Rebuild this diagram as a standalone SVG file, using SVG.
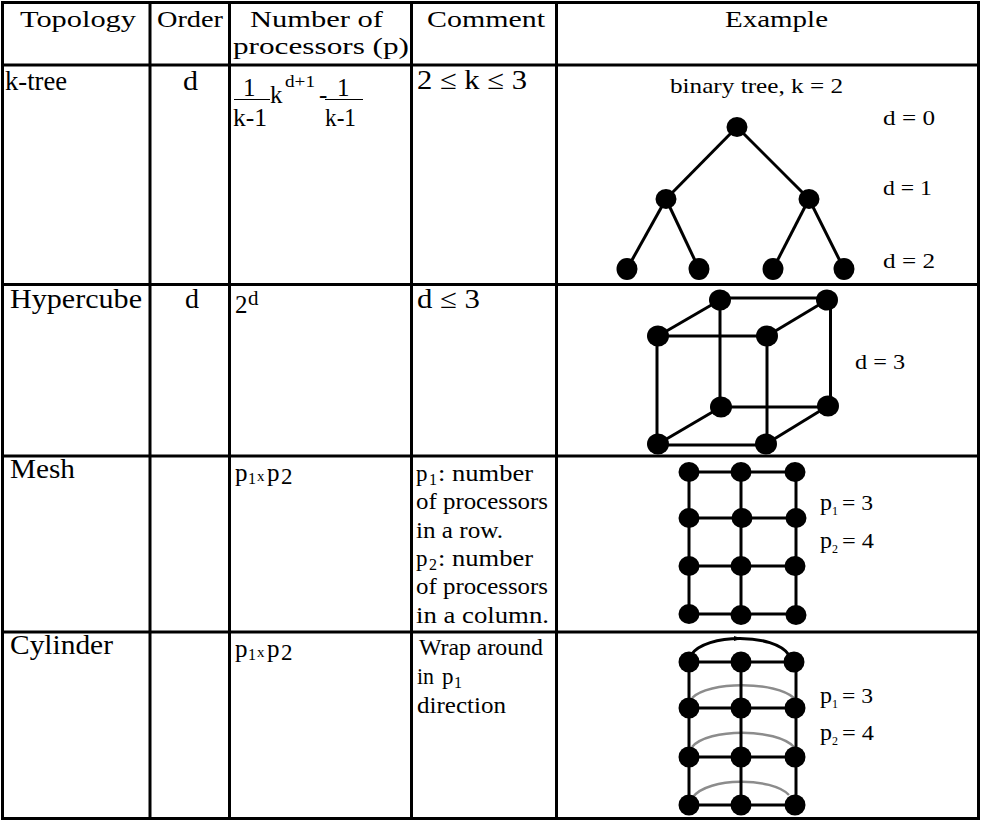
<svg xmlns="http://www.w3.org/2000/svg" width="981" height="821" viewBox="0 0 981 821">
<style>
  text { font-family: "Liberation Serif", "Times New Roman", serif; fill: #000; }
  .hd { font-size: 24px; }
  .h { font-size: 27px; }
  .c { font-size: 23px; }
  .l { font-size: 22px; }
  .f { font-size: 25px; }
  .grid line { stroke: #000; stroke-width: 3; }
  .e { stroke: #000; stroke-width: 3; fill: none; }
  .g { stroke: #8c8c8c; stroke-width: 2.5; fill: none; }
  .bar { stroke: #000; stroke-width: 1.2; }
  .n { fill: #000; }
</style>
<rect x="0" y="0" width="981" height="821" fill="#fff"/>

<!-- table grid -->
<g id="grid" class="grid">
  <line x1="1" y1="2.5" x2="980" y2="2.5"/>
  <line x1="1" y1="65" x2="980" y2="65"/>
  <line x1="1" y1="284.5" x2="980" y2="284.5"/>
  <line x1="1" y1="456" x2="980" y2="456"/>
  <line x1="1" y1="632" x2="980" y2="632"/>
  <line x1="1" y1="818.5" x2="980" y2="818.5"/>
  <line x1="2.5" y1="1" x2="2.5" y2="820"/>
  <line x1="150" y1="1" x2="150" y2="820"/>
  <line x1="229.5" y1="1" x2="229.5" y2="820"/>
  <line x1="411.5" y1="1" x2="411.5" y2="820"/>
  <line x1="556.5" y1="1" x2="556.5" y2="820"/>
  <line x1="978.5" y1="1" x2="978.5" y2="820"/>
</g>

<!-- header -->
<g id="header" class="hd">
  <text x="20" y="27" textLength="116" lengthAdjust="spacingAndGlyphs">Topology</text>
  <text x="157" y="27" textLength="66" lengthAdjust="spacingAndGlyphs">Order</text>
  <text x="250" y="27" textLength="133" lengthAdjust="spacingAndGlyphs">Number of</text>
  <text x="233" y="54" textLength="176" lengthAdjust="spacingAndGlyphs">processors (p)</text>
  <text x="427" y="27" textLength="118" lengthAdjust="spacingAndGlyphs">Comment</text>
  <text x="725" y="27" textLength="103" lengthAdjust="spacingAndGlyphs">Example</text>
</g>

<!-- row: k-tree -->
<g id="row-ktree">
  <text class="h" x="5" y="90" textLength="62" lengthAdjust="spacingAndGlyphs">k-tree</text>
  <text class="h" x="183" y="90" textLength="15" lengthAdjust="spacingAndGlyphs">d</text>
  <g id="formula" class="f">
    <text x="243" y="96">1</text>
    <line class="bar" x1="234" y1="99.5" x2="270" y2="99.5"/>
    <text x="233" y="126" textLength="34" lengthAdjust="spacingAndGlyphs">k-1</text>
    <text x="270" y="103">k</text>
    <text x="285" y="87" style="font-size:17px" textLength="30" lengthAdjust="spacingAndGlyphs">d+1</text>
    <text x="319" y="103">-</text>
    <text x="337" y="96">1</text>
    <line class="bar" x1="325" y1="99.5" x2="363" y2="99.5"/>
    <text x="325" y="126" textLength="31" lengthAdjust="spacingAndGlyphs">k-1</text>
  </g>
  <text class="h" x="417" y="89" textLength="110" lengthAdjust="spacingAndGlyphs">2 ≤ k ≤ 3</text>
</g>

<!-- row: hypercube -->
<g id="row-hypercube">
  <text class="h" x="10" y="308" textLength="132" lengthAdjust="spacingAndGlyphs">Hypercube</text>
  <text class="h" x="185" y="308" textLength="14" lengthAdjust="spacingAndGlyphs">d</text>
  <text x="235" y="313" style="font-size:25px">2</text>
  <text x="248" y="305" style="font-size:21px">d</text>
  <text class="h" x="417" y="308" textLength="63" lengthAdjust="spacingAndGlyphs">d ≤ 3</text>
</g>

<!-- row: mesh -->
<g id="row-mesh">
  <text class="h" x="10" y="478" textLength="65" lengthAdjust="spacingAndGlyphs">Mesh</text>
  <text x="235" y="481" style="font-size:25px">p</text>
  <text x="248" y="484" style="font-size:16px">1</text>
  <text x="257" y="481" style="font-size:15px">x</text>
  <text x="267" y="481" style="font-size:25px">p</text>
  <text x="281" y="484" style="font-size:23px">2</text>
  <g class="c">
    <text x="416" y="481">p</text>
    <text x="429" y="485" style="font-size:16px">1</text>
    <text x="438" y="481" textLength="95" lengthAdjust="spacingAndGlyphs">: number</text>
    <text x="416" y="509" textLength="132" lengthAdjust="spacingAndGlyphs">of processors</text>
    <text x="416" y="538" textLength="87" lengthAdjust="spacingAndGlyphs">in a row.</text>
    <text x="416" y="566">p</text>
    <text x="429" y="570" style="font-size:16px">2</text>
    <text x="438" y="566" textLength="95" lengthAdjust="spacingAndGlyphs">: number</text>
    <text x="416" y="594" textLength="132" lengthAdjust="spacingAndGlyphs">of processors</text>
    <text x="416" y="623" textLength="133" lengthAdjust="spacingAndGlyphs">in a column.</text>
  </g>
</g>

<!-- row: cylinder -->
<g id="row-cylinder">
  <text class="h" x="10" y="654" textLength="103" lengthAdjust="spacingAndGlyphs">Cylinder</text>
  <text x="235" y="657" style="font-size:25px">p</text>
  <text x="248" y="660" style="font-size:16px">1</text>
  <text x="257" y="657" style="font-size:15px">x</text>
  <text x="267" y="657" style="font-size:25px">p</text>
  <text x="281" y="660" style="font-size:23px">2</text>
  <g class="c">
    <text x="419" y="655" textLength="124" lengthAdjust="spacingAndGlyphs">Wrap around</text>
    <text x="417" y="684" textLength="17" lengthAdjust="spacingAndGlyphs">in</text>
    <text x="442" y="684">p</text>
    <text x="454" y="688" style="font-size:16px">1</text>
    <text x="417" y="713" textLength="89" lengthAdjust="spacingAndGlyphs">direction</text>
  </g>
</g>

<!-- example: binary tree -->
<g id="tree">
  <g class="l">
    <text x="670" y="93" textLength="173" lengthAdjust="spacingAndGlyphs">binary tree, k = 2</text>
    <text x="883" y="125" textLength="52" lengthAdjust="spacingAndGlyphs">d = 0</text>
    <text x="883" y="195" textLength="49" lengthAdjust="spacingAndGlyphs">d = 1</text>
    <text x="883" y="268" textLength="52" lengthAdjust="spacingAndGlyphs">d = 2</text>
  </g>
  <g id="tree-connectors" class="e">
    <line x1="737" y1="127" x2="666" y2="199"/>
    <line x1="737" y1="127" x2="809" y2="199"/>
    <line x1="666" y1="199" x2="627" y2="269"/>
    <line x1="666" y1="199" x2="699" y2="269"/>
    <line x1="809" y1="199" x2="773" y2="269"/>
    <line x1="809" y1="199" x2="844" y2="269"/>
  </g>
  <g id="tree-nodes" class="n">
    <ellipse id="t-root" cx="737" cy="127" rx="10.5" ry="10"/>
    <ellipse id="t-l" cx="666" cy="199" rx="10.5" ry="10"/>
    <ellipse id="t-r" cx="809" cy="199" rx="10.5" ry="10"/>
    <ellipse id="t-ll" cx="627" cy="269" rx="10.5" ry="11"/>
    <ellipse id="t-lr" cx="699" cy="269" rx="10.5" ry="11"/>
    <ellipse id="t-rl" cx="773" cy="269" rx="10.5" ry="11"/>
    <ellipse id="t-rr" cx="844" cy="269" rx="10.5" ry="11"/>
  </g>
</g>

<!-- example: hypercube -->
<g id="cube">
  <text class="l" x="855" y="369" textLength="50" lengthAdjust="spacingAndGlyphs">d = 3</text>
  <g id="cube-connectors" class="e">
    <line x1="720" y1="298" x2="827" y2="298"/>
    <line x1="658" y1="336" x2="767" y2="336"/>
    <line x1="721" y1="407" x2="828" y2="407"/>
    <line x1="658" y1="445" x2="766" y2="445"/>
    <line x1="657" y1="336" x2="657" y2="444"/>
    <line x1="720" y1="300" x2="720" y2="407"/>
    <line x1="767" y1="336" x2="767" y2="444"/>
    <line x1="830.5" y1="300" x2="830.5" y2="406"/>
    <line x1="658" y1="336" x2="720" y2="300"/>
    <line x1="767" y1="336" x2="827" y2="300"/>
    <line x1="658" y1="444" x2="721" y2="407"/>
    <line x1="766" y1="444" x2="828" y2="406"/>
  </g>
  <g id="cube-nodes" class="n">
    <ellipse id="c-btl" cx="720" cy="300" rx="11" ry="10.5"/>
    <ellipse id="c-btr" cx="827" cy="300" rx="11" ry="10.5"/>
    <ellipse id="c-ftl" cx="658" cy="336" rx="11" ry="10.5"/>
    <ellipse id="c-ftr" cx="767" cy="336" rx="11" ry="10.5"/>
    <ellipse id="c-bbl" cx="721" cy="407" rx="11" ry="10.5"/>
    <ellipse id="c-bbr" cx="828" cy="406" rx="11" ry="10.5"/>
    <ellipse id="c-fbl" cx="658" cy="444" rx="11" ry="10.5"/>
    <ellipse id="c-fbr" cx="766" cy="444" rx="11" ry="10.5"/>
  </g>
</g>

<!-- example: mesh -->
<g id="mesh">
  <g class="l">
    <text x="820" y="510" style="font-size:24px">p</text>
    <text x="832" y="515" style="font-size:12px">1</text>
    <text x="842" y="510" textLength="31" lengthAdjust="spacingAndGlyphs">= 3</text>
    <text x="820" y="548" style="font-size:24px">p</text>
    <text x="832" y="553" style="font-size:12px">2</text>
    <text x="842" y="548" textLength="32" lengthAdjust="spacingAndGlyphs">= 4</text>
  </g>
  <g id="mesh-connectors" class="e">
    <line x1="689" y1="472" x2="795" y2="472"/>
    <line x1="689" y1="518" x2="796" y2="518"/>
    <line x1="689" y1="566" x2="795" y2="566"/>
    <line x1="689" y1="614" x2="796" y2="614"/>
    <line x1="689" y1="472" x2="689" y2="614"/>
    <line x1="741" y1="472" x2="741" y2="614"/>
    <line x1="796" y1="472" x2="796" y2="614"/>
  </g>
  <g id="mesh-nodes" class="n">
    <ellipse id="m-11" cx="689" cy="472" rx="10.5" ry="10"/>
    <ellipse id="m-12" cx="741" cy="472" rx="10.5" ry="10"/>
    <ellipse id="m-13" cx="795" cy="472" rx="10.5" ry="10"/>
    <ellipse id="m-21" cx="689" cy="518" rx="10.5" ry="10"/>
    <ellipse id="m-22" cx="742" cy="518" rx="10.5" ry="10"/>
    <ellipse id="m-23" cx="796" cy="518" rx="10.5" ry="10"/>
    <ellipse id="m-31" cx="689" cy="566" rx="10.5" ry="10"/>
    <ellipse id="m-32" cx="741" cy="566" rx="10.5" ry="10"/>
    <ellipse id="m-33" cx="795" cy="566" rx="10.5" ry="10"/>
    <ellipse id="m-41" cx="689" cy="614" rx="10.5" ry="10"/>
    <ellipse id="m-42" cx="741" cy="615" rx="10.5" ry="10"/>
    <ellipse id="m-43" cx="796" cy="615" rx="10.5" ry="10"/>
  </g>
</g>

<!-- example: cylinder -->
<g id="cylinder">
  <g class="l">
    <text x="820" y="703" style="font-size:24px">p</text>
    <text x="832" y="708" style="font-size:12px">1</text>
    <text x="842" y="703" textLength="31" lengthAdjust="spacingAndGlyphs">= 3</text>
    <text x="820" y="740" style="font-size:24px">p</text>
    <text x="832" y="745" style="font-size:12px">2</text>
    <text x="842" y="740" textLength="32" lengthAdjust="spacingAndGlyphs">= 4</text>
  </g>
  <g id="cylinder-connectors">
    <path class="g" d="M692,698 C708,681 776,681 794,698"/>
    <path class="g" d="M692,747 C708,728 776,728 794,747"/>
    <path class="g" d="M693,797 C708,777 772,777 789,795"/>
    <path class="e" stroke-width="2.5" d="M691,655 C705,633 775,633 789,655"/>
    <path d="M734,636 L742,638.5 L734,641 Z" fill="#000"/>
    <g class="e">
      <line x1="689" y1="662" x2="794" y2="662"/>
      <line x1="689" y1="708" x2="795" y2="708"/>
      <line x1="689" y1="757" x2="794" y2="757"/>
      <line x1="689" y1="805" x2="794" y2="805"/>
      <line x1="689" y1="662" x2="689" y2="805"/>
      <line x1="741" y1="662" x2="741" y2="805"/>
      <line x1="796" y1="662" x2="796" y2="805"/>
    </g>
  </g>
  <g id="cylinder-nodes" class="n">
    <ellipse id="y-11" cx="689" cy="662" rx="10.5" ry="10.5"/>
    <ellipse id="y-12" cx="741" cy="662" rx="10.5" ry="10.5"/>
    <ellipse id="y-13" cx="794" cy="662" rx="10.5" ry="10.5"/>
    <ellipse id="y-21" cx="689" cy="708" rx="10.5" ry="10.5"/>
    <ellipse id="y-22" cx="741" cy="708" rx="10.5" ry="10.5"/>
    <ellipse id="y-23" cx="795" cy="708" rx="10.5" ry="10.5"/>
    <ellipse id="y-31" cx="689" cy="757" rx="10.5" ry="10.5"/>
    <ellipse id="y-32" cx="741" cy="757" rx="10.5" ry="10.5"/>
    <ellipse id="y-33" cx="795" cy="757" rx="10.5" ry="10.5"/>
    <ellipse id="y-41" cx="689" cy="805" rx="10.5" ry="10.5"/>
    <ellipse id="y-42" cx="741" cy="805" rx="10.5" ry="10.5"/>
    <ellipse id="y-43" cx="795" cy="805" rx="10.5" ry="10.5"/>
  </g>
</g>
</svg>
